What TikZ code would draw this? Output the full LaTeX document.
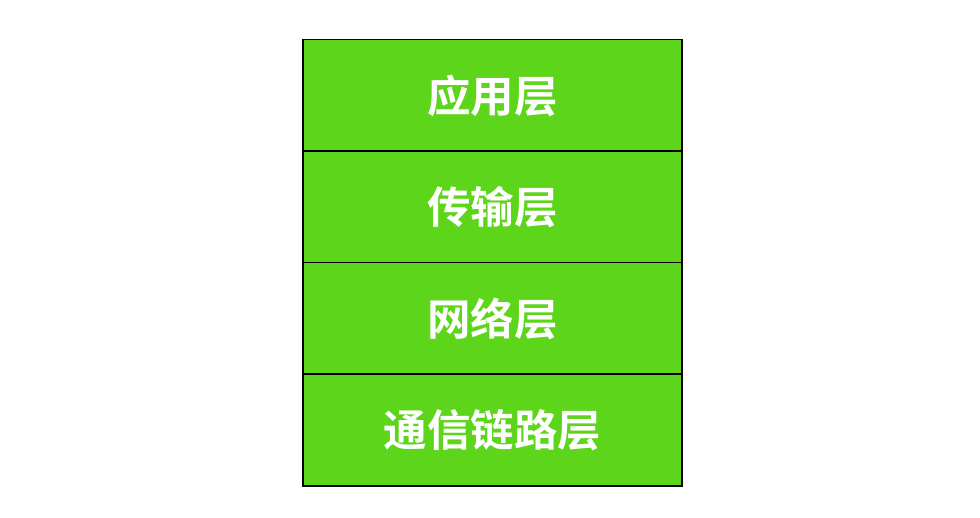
\documentclass[tikz,border=0pt]{standalone}
\usepackage{fontspec}
\newfontfamily\cjk{Noto Sans CJK SC Bold}
\definecolor{layergreen}{HTML}{5DD51B}
\begin{document}
\begin{tikzpicture}[x=1pt,y=-1pt,
  layer/.style={draw=black,line width=1.5pt,fill=layergreen,minimum width=379pt,minimum height=111.5pt,inner sep=0pt,font=\cjk\fontsize{43.5}{46}\selectfont,text=white,anchor=north west}]
\useasboundingbox (0,0) rectangle (980,518);
\node[layer] (app) at (302,39) {应用层};
\node[layer] (trans) at (302,150.5) {传输层};
\node[layer] (net) at (302,262) {网络层};
\node[layer] (link) at (302,373.5) {通信链路层};
\end{tikzpicture}
\end{document}
